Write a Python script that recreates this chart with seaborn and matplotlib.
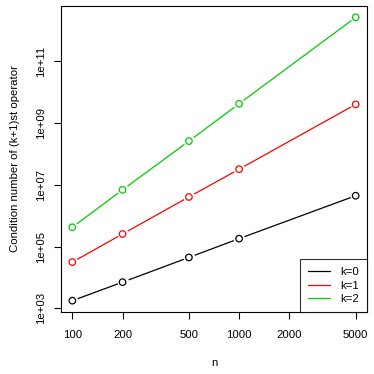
import numpy as np
import pandas as pd
import matplotlib
matplotlib.use("Agg")
import matplotlib.pyplot as plt
import seaborn as sns

# values (log10 of condition number)
n_values = [100, 200, 500, 1000, 5000]
k0_log = [3.25, 3.85, 4.65, 5.26, 6.65]
k1_log = [4.50, 5.41, 6.61, 7.51, 9.61]
k2_log = [5.63, 6.84, 8.42, 9.63, 12.43]
series_labels = ["k=0", "k=1", "k=2"]
series_colors = ["#000000", "#FF0000", "#00CD00"]
x_ticks = [100, 200, 500, 1000, 2000, 5000]
y_ticks = [1e3, 1e5, 1e7, 1e9, 1e11]
y_tick_labels = ["1e+03", "1e+05", "1e+07", "1e+09", "1e+11"]

df = pd.DataFrame({
    "n": n_values * 3,
    "cond": [10 ** v for v in k0_log + k1_log + k2_log],
    "k": sum([[lab] * len(n_values) for lab in series_labels], []),
})

sns.set_style("white")
plt.rcParams.update({
    "font.family": ["Liberation Sans", "DejaVu Sans"],
    "text.color": "black",
    "axes.labelcolor": "black",
    "xtick.color": "black",
    "ytick.color": "black",
})
FS = 8.2

fig = plt.figure(figsize=(3.74, 3.74), dpi=100)
ax = fig.add_axes([61 / 374, 62 / 374, 306 / 374, 306 / 374])

sns.lineplot(data=df, x="n", y="cond", hue="k", palette=series_colors,
             linewidth=0.9, ax=ax, legend=False)
# white halos so lines break around the points, R type="b" style
ax.scatter(df["n"], df["cond"], s=70, color="white", zorder=3, linewidths=0)
sns.scatterplot(data=df, x="n", y="cond", hue="k", palette=series_colors,
                s=22, facecolor="none", linewidth=0.9, ax=ax, legend=False,
                zorder=4)
for coll in ax.collections[-1:]:
    coll.set_facecolor("none")
    cols = [c for c in series_colors for _ in n_values]
    coll.set_edgecolor(cols)

ax.set_xscale("log")
ax.set_yscale("log")
xr = np.log10([100, 5000])
pad = 0.04 * (xr[1] - xr[0])
ax.set_xlim(10 ** (xr[0] - pad), 10 ** (xr[1] + pad))
allv = k0_log + k1_log + k2_log
ypad = 0.04 * (max(allv) - min(allv))
ax.set_ylim(10 ** (min(allv) - ypad), 10 ** (max(allv) + ypad))

ax.set_xticks(x_ticks)
ax.set_xticklabels([str(t) for t in x_ticks])
ax.xaxis.set_minor_locator(matplotlib.ticker.NullLocator())
ax.set_yticks(y_ticks)
ax.set_yticklabels(y_tick_labels, rotation=90, va="center")
ax.yaxis.set_minor_locator(matplotlib.ticker.NullLocator())
ax.tick_params(axis="both", direction="out", length=5, width=0.8,
               color="black", labelcolor="black", labelsize=FS,
               left=True, bottom=True)
ax.tick_params(axis="x", pad=8)
ax.tick_params(axis="y", pad=6)

for sp in ax.spines.values():
    sp.set_visible(True)
    sp.set_color("black")
    sp.set_linewidth(0.8)

ax.set_xlabel("n", fontsize=FS, labelpad=13, color="black")
ax.set_ylabel("Condition number of (k+1)st operator", fontsize=FS,
              labelpad=11, color="black")

handles = [plt.Line2D([], [], color=c, linewidth=0.9) for c in series_colors]
leg = ax.legend(handles, series_labels, loc="lower right", fontsize=FS,
                frameon=True, fancybox=False, borderaxespad=0,
                handlelength=1.9, handletextpad=0.9, borderpad=0.7,
                labelspacing=0.3)
leg.get_frame().set_edgecolor("black")
leg.get_frame().set_linewidth(0.8)
for t in leg.get_texts():
    t.set_color("black")

fig.savefig("out.png", dpi=100, facecolor="white")
